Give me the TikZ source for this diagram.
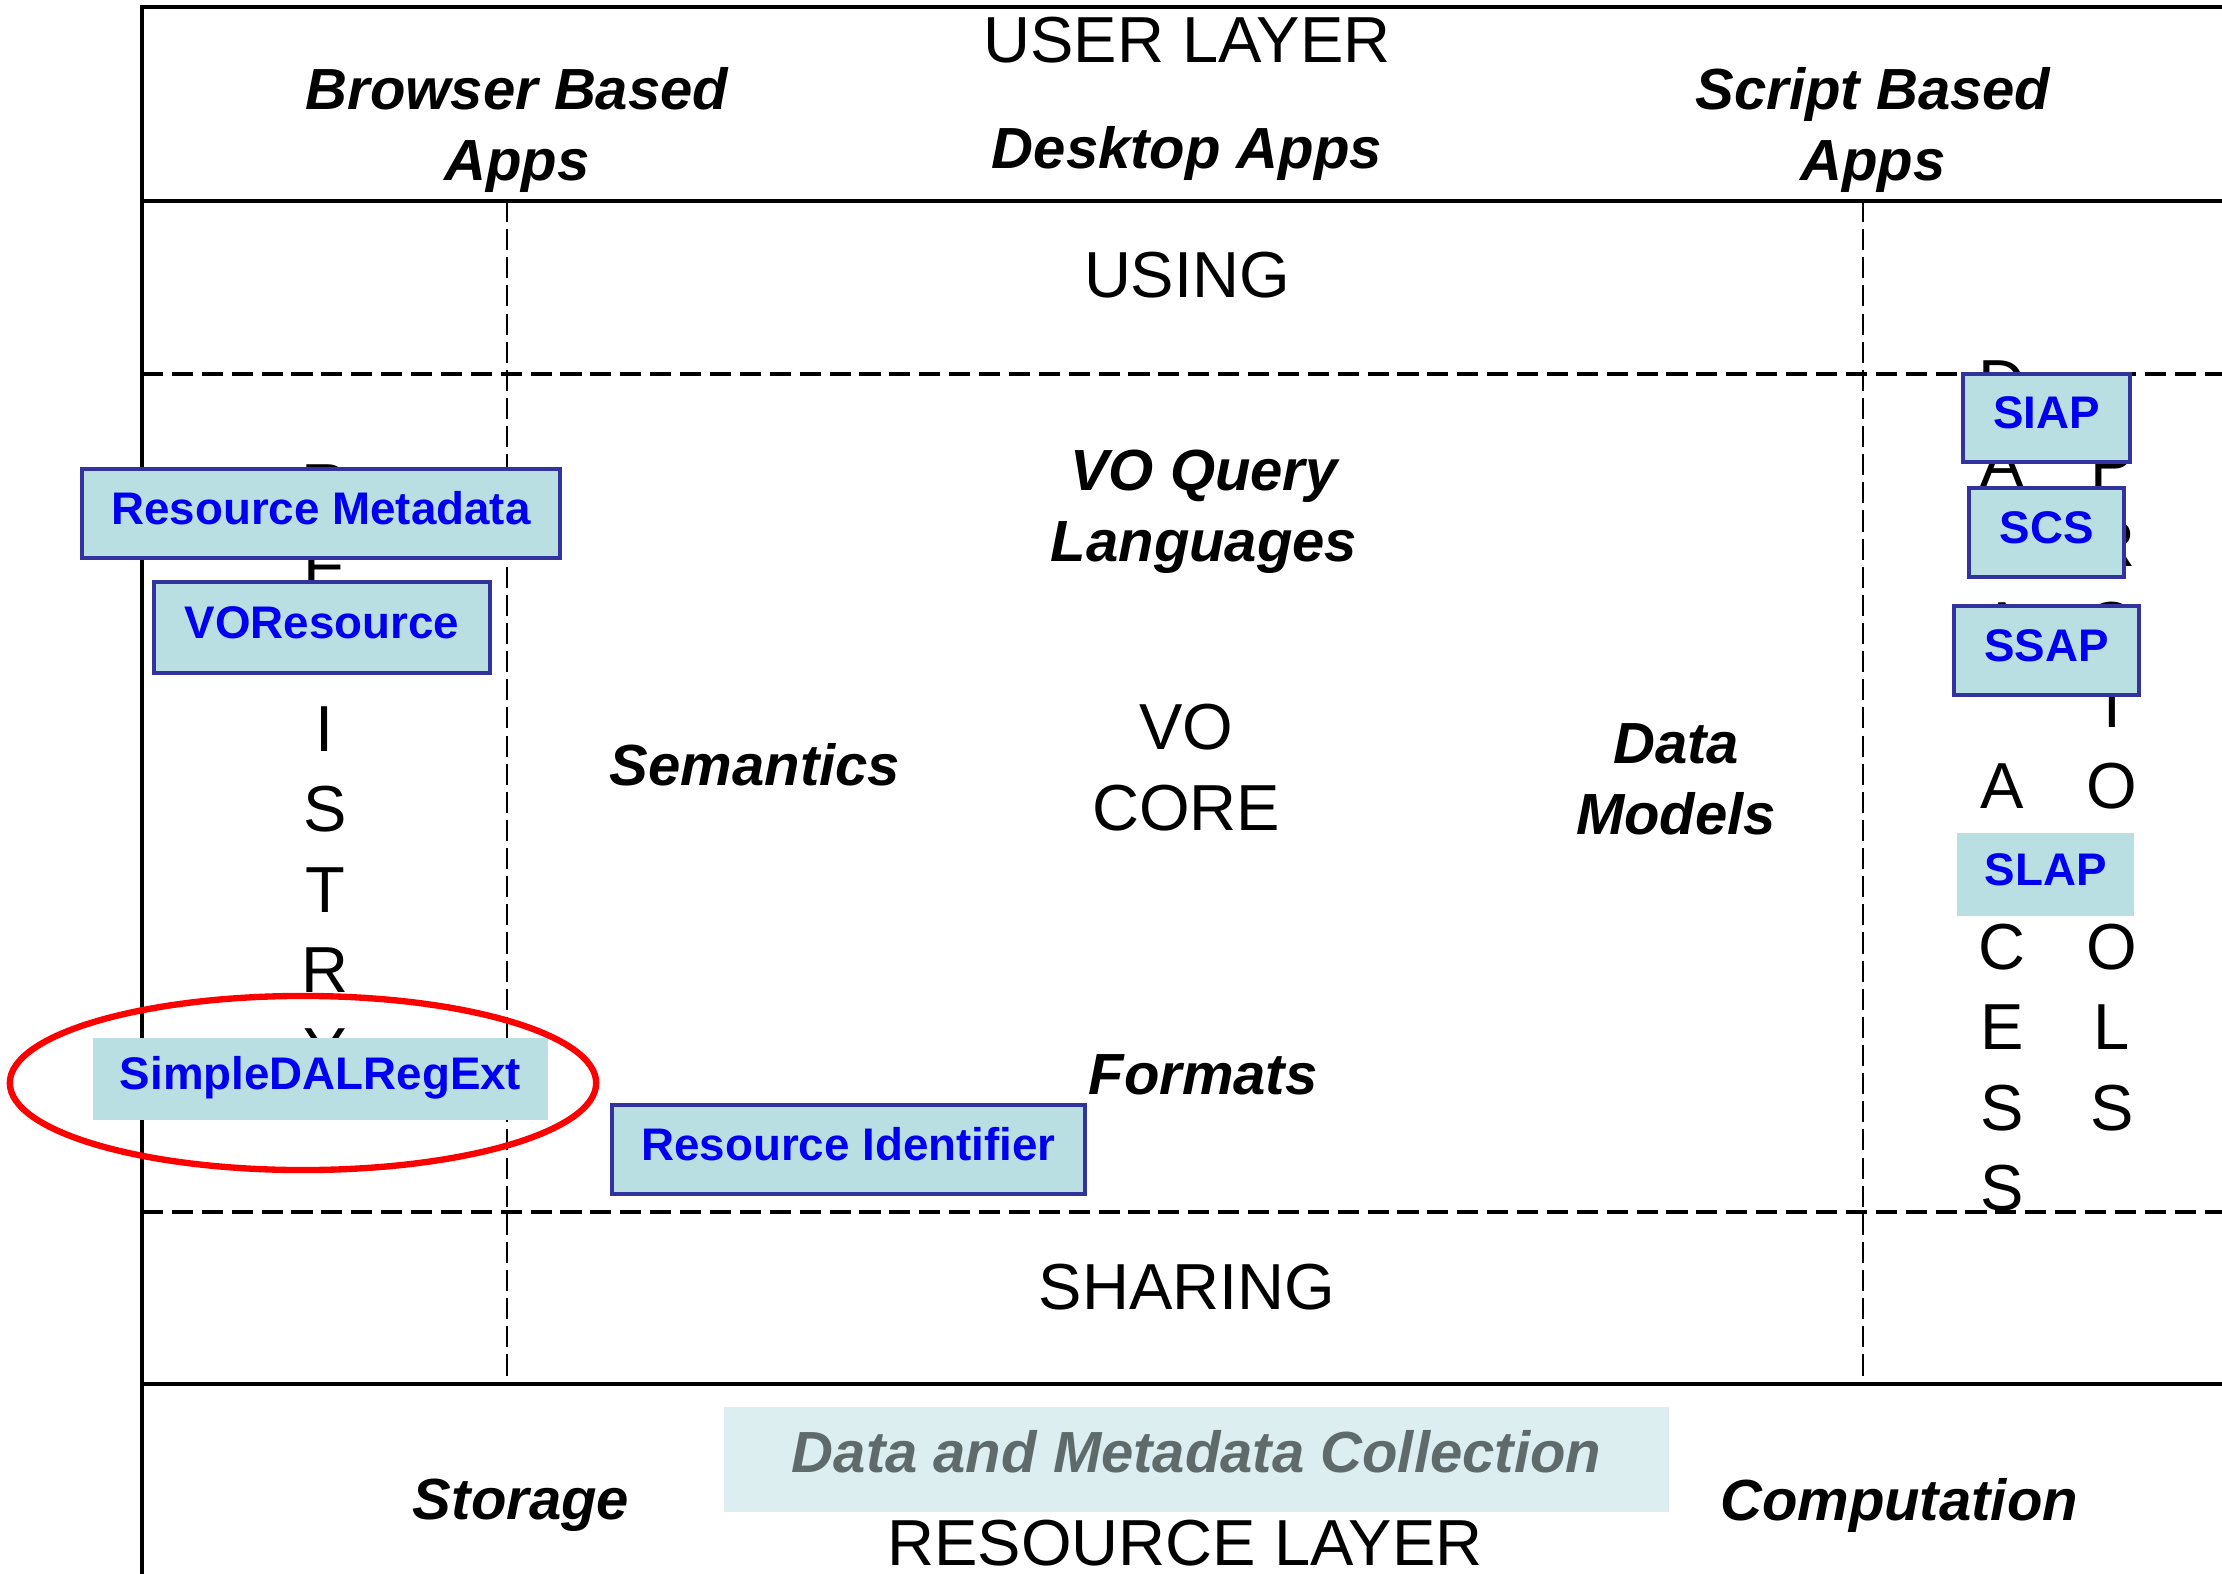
\documentclass[tikz,border=0pt]{standalone}
\usepackage{fontspec}
\setmainfont{Liberation Sans}
\definecolor{boxfill}{RGB}{185,223,227}
\definecolor{boxline}{RGB}{51,51,160}
\definecolor{boxtext}{RGB}{0,0,240}
\definecolor{collfill}{RGB}{221,238,240}
\definecolor{colltext}{RGB}{95,107,107}
\tikzset{
  layer/.style={font=\fontsize{18.5}{23}\selectfont, align=center, inner sep=0pt},
  topic/.style={font=\fontsize{16.5}{20.2}\selectfont\bfseries\itshape, align=center, inner sep=0pt},
  letter/.style={font=\fontsize{18.5}{23}\selectfont, inner sep=0pt},
  stdbox/.style={fill=boxfill, draw=boxline, line width=1pt, text=boxtext,
    font=\fontsize{13}{15}\selectfont\bfseries, inner sep=0pt, text height=0.72em, text depth=0.12em},
  plainbox/.style={stdbox, draw=none},
  grid/.style={line width=1pt, dash pattern=on 6pt off 2.5pt},
  split/.style={line width=0.6pt, dash pattern=on 6pt off 2pt}
}
\begin{document}
\begin{tikzpicture}[x=0.01cm, y=-0.01cm]
  \useasboundingbox (0,0) rectangle (2222,1574);
  \clip (0,0) rectangle (2222,1574);
  \draw [line width=1pt] (142,1600) -- (142,7) -- (2300,7);
  \draw [line width=1.3pt] (142,201) -- (2300,201);
  \draw [line width=1.3pt] (142,1384) -- (2300,1384);
  \draw [grid] (142,374) -- (2300,374);
  \draw [grid] (142,1212) -- (2300,1212);
  \draw [split] (507,201) -- (507,1384);
  \draw [split] (1863,201) -- (1863,1384);

  \node[layer] (user) at (1187,40) {USER LAYER};
  \node[topic] (browser) at (517,130) {Browser Based\\Apps};
  \node[topic] (desktop) at (1187,154) {Desktop Apps};
  \node[topic] (script) at (1873,130) {Script Based\\Apps};
  \node[layer] (using) at (1187,275) {USING};
  \node[topic] (query) at (1204,512) {VO Query\\Languages};
  \node[topic] (semantics) at (755,765) {Semantics};
  \node[layer] (core) at (1186,768) {VO\\CORE};
  \node[topic] (models) at (1676,779) {Data\\Models};
  \node[topic] (formats) at (1203,1075) {Formats};
  \node[layer] (sharing) at (1187,1287) {SHARING};

  \foreach \ch [count=\i] in {R,E,G,I,S,T,R,Y}
    \node[letter] (reg\i) at (325,{407+80.5*\i}) {\ch};
  \foreach \ch [count=\i] in {D,A,T,A,{},A,C,C,E,S,S}
    \node[letter] (dac\i) at (2002,{303+80.5*\i}) {\ch};
  \foreach \ch [count=\i] in {P,R,O,T,O,C,O,L,S}
    \node[letter] (pro\i) at (2112,{383.5+80.5*\i}) {\ch};

  \node[stdbox, minimum width=4.78cm, minimum height=0.89cm] (resmeta) at (321,513.5) {Resource Metadata};
  \node[stdbox, minimum width=3.36cm, minimum height=0.91cm] (vores) at (322,627.5) {VOResource};
  \node[plainbox, minimum width=4.55cm, minimum height=0.82cm] (regext) at (320.5,1079) {SimpleDALRegExt};
  \node[stdbox, minimum width=4.73cm, minimum height=0.89cm] (resid) at (848.5,1149.5) {Resource Identifier};
  \node[stdbox, minimum width=1.67cm, minimum height=0.88cm] (siap) at (2046.5,418) {SIAP};
  \node[stdbox, minimum width=1.55cm, minimum height=0.89cm] (scs) at (2046.5,532.5) {SCS};
  \node[stdbox, minimum width=1.85cm, minimum height=0.89cm] (ssap) at (2046.5,650.5) {SSAP};
  \node[plainbox, minimum width=1.77cm, minimum height=0.83cm] (slap) at (2045.5,874.5) {SLAP};

  \node[fill=collfill, text=colltext, minimum width=9.45cm, minimum height=1.05cm, inner sep=0pt,
    text height=0.72em, text depth=0em,
    font=\fontsize{16.5}{20}\selectfont\bfseries\itshape] (collection) at (1196.5,1459.5) {Data and Metadata Collection};
  \node[topic] (storage) at (521,1505) {Storage};
  \node[topic] (computation) at (1899,1505) {Computation};
  \node[layer] (resource) at (1185,1543) {RESOURCE LAYER};

  \draw [red, line width=1.8pt] (303,1083) ellipse [x radius=2.93cm, y radius=0.87cm];
\end{tikzpicture}
\end{document}
